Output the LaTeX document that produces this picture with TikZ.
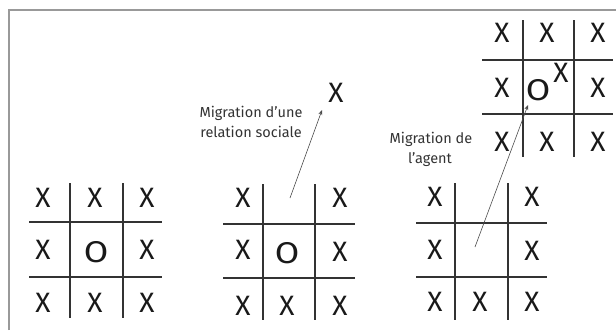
\documentclass[tikz,border=0pt]{standalone}
\usepackage{fontspec}
\setmainfont{Fira Sans}
\usetikzlibrary{arrows.meta}
% a rounder O for the agent
\newcommand{\agentO}{\scalebox{1.18}[1]{O}}
\begin{document}
\begin{tikzpicture}[x=1pt,y=-1pt,
  gridline/.style={draw=black!80,line width=1.7pt},
  cell/.style={inner sep=0pt,font=\fontsize{28}{28}\selectfont,text=black!90},
  ocell/.style={cell,font=\fontsize{30}{30}\selectfont},
  lbl/.style={inner sep=0pt,anchor=base,font=\fontsize{14.5}{20}\selectfont,text=black!80},
  migr/.style={draw=black!70,line width=0.6pt,-{Stealth[length=5pt,width=4pt]}},
  frame/.style={draw=black!40,line width=1.6pt}]
\useasboundingbox (0,0) rectangle (616,330);
% outer frame (top and left edges)
\draw[frame] (9,330) -- (9,10) -- (616,10);

% ---- board 1: full board ----
\draw[gridline] (70,183) -- (70,318) (123,183) -- (123,318)
                (29,222) -- (162,222) (29,277) -- (162,277);
\node[cell] (a11) at (43,198) {X};
\node[cell] (a12) at (95,198) {X};
\node[cell] (a13) at (147,198) {X};
\node[cell] (a21) at (43,250) {X};
\node[ocell] (a22) at (96,252) {\agentO};
\node[cell] (a23) at (147,250) {X};
\node[cell] (a31) at (43,303) {X};
\node[cell] (a32) at (95,303) {X};
\node[cell] (a33) at (147,303) {X};

% ---- board 2: one relation leaves ----
\draw[gridline] (263,184) -- (263,320) (315,184) -- (315,320)
                (223,224) -- (355,224) (223,278) -- (355,278);
\node[cell] (b11) at (243,198) {X};
\node[cell] (b13) at (340,198) {X};
\node[cell] (b21) at (243,250) {X};
\node[ocell] (b22) at (287,253) {\agentO};
\node[cell] (b23) at (340,252) {X};
\node[cell] (b31) at (243,306) {X};
\node[cell] (b32) at (287,306) {X};
\node[cell] (b33) at (340,306) {X};
\coordinate (b12) at (290,198);
\node[cell] (bx) at (336,93) {X};
\draw[migr] (b12) -- (322,110);
\node[lbl] (la1) at (251,117) {Migration d'une};
\node[lbl] (la2) at (251,137) {relation sociale};

% ---- board 3: the agent leaves ----
\draw[gridline] (455,183) -- (455,320) (508,183) -- (508,320)
                (416,223) -- (547,223) (416,277) -- (547,277);
\node[cell] (c11) at (435,197) {X};
\node[cell] (c13) at (532,197) {X};
\node[cell] (c21) at (435,250) {X};
\node[cell] (c23) at (532,251) {X};
\node[cell] (c31) at (435,302) {X};
\node[cell] (c32) at (480,302) {X};
\node[cell] (c33) at (532,302) {X};
\coordinate (c22) at (475,247);

% ---- board 4: the agent arrives ----
\draw[gridline] (523,20) -- (523,157) (574,20) -- (574,157)
                (482,60) -- (613,60) (482,114) -- (613,114);
\node[cell] (d11) at (502,33) {X};
\node[cell] (d12) at (547,33) {X};
\node[cell] (d13) at (598,33) {X};
\node[cell] (d21) at (502,88) {X};
\node[ocell] (d22) at (538,90) {\agentO};
\node[cell] (dx)  at (561,73) {X};
\node[cell] (d23) at (598,88) {X};
\node[cell] (d31) at (502,142) {X};
\node[cell] (d32) at (547,142) {X};
\node[cell] (d33) at (598,142) {X};
\draw[migr] (c22) -- (528,105);
\node[lbl] (lb1) at (431,143) {Migration de};
\node[lbl] (lb2) at (430,163) {l'agent};
\end{tikzpicture}
\end{document}
